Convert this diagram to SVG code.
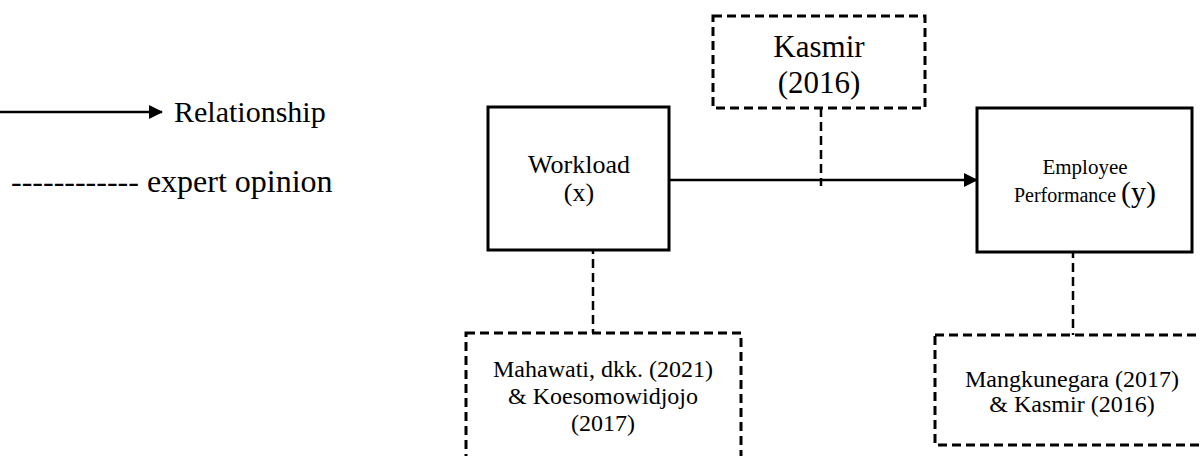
<svg xmlns="http://www.w3.org/2000/svg" width="1200" height="456" viewBox="0 0 1200 456">
<style>
text{font-family:"Liberation Serif","Times New Roman",serif;fill:#000;text-anchor:middle}
.solid{fill:#fff;stroke:#000;stroke-width:3}
.dash{fill:none;stroke:#000;stroke-width:3;stroke-dasharray:9,5}
.dline{fill:none;stroke:#000;stroke-width:2.5;stroke-dasharray:9,5}
.line{fill:none;stroke:#000;stroke-width:2.5}
</style>
<defs>
<marker id="ah" markerWidth="14" markerHeight="14" refX="13" refY="7" orient="auto" markerUnits="userSpaceOnUse">
<path d="M0,0 L14,7 L0,14 Z" fill="#000"/>
</marker>
</defs>
<g id="legend">
<line x1="0" y1="112" x2="162" y2="112" class="line" stroke-width="2" marker-end="url(#ah)"/>
<text x="174" y="122" font-size="30" style="text-anchor:start">Relationship</text>
<text x="11" y="192" font-size="32" style="text-anchor:start">------------ expert opinion</text>
</g>
<g id="connectors">
<line x1="669" y1="180" x2="977" y2="180" class="line" marker-end="url(#ah)"/>
<line x1="821" y1="108" x2="821" y2="186" class="dline"/>
<line x1="593" y1="231" x2="593" y2="333" class="dline"/>
<line x1="1073" y1="235" x2="1073" y2="335" class="dline"/>
</g>
<g id="workload">
<rect x="488" y="107" width="181" height="143" class="solid"/>
<text x="579" y="173" font-size="26">Workload</text>
<text x="579" y="201" font-size="26">(x)</text>
</g>
<g id="performance">
<rect x="977" y="108" width="215" height="144" class="solid"/>
<text x="1085" y="174" font-size="21">Employee</text>
<text x="1085" y="202" font-size="20">Performance <tspan font-size="30">(y)</tspan></text>
</g>
<g id="kasmir">
<rect x="713" y="16" width="212" height="92" class="dash"/>
<text x="819" y="57" font-size="31">Kasmir</text>
<text x="819" y="93" font-size="31">(2016)</text>
</g>
<g id="mahawati">
<rect x="466" y="333" width="275" height="140" class="dash"/>
<text x="603" y="377" font-size="24">Mahawati, dkk. (2021)</text>
<text x="603" y="404" font-size="24">&amp; Koesomowidjojo</text>
<text x="603" y="431" font-size="24">(2017)</text>
</g>
<g id="mangkunegara">
<rect x="935" y="335" width="280" height="110" class="dash"/>
<text x="1072" y="387" font-size="24">Mangkunegara (2017)</text>
<text x="1072" y="412" font-size="24">&amp; Kasmir (2016)</text>
</g>
</svg>
